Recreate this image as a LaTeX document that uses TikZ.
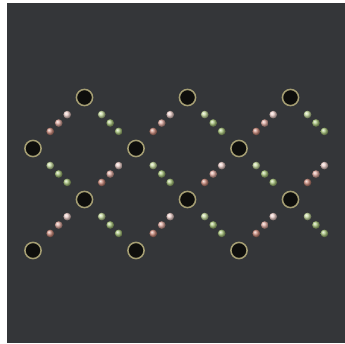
\documentclass[tikz,border=0pt]{standalone}
\usepackage{xcolor}
\usepackage{tikz}
\usetikzlibrary{decorations.markings}

\definecolor{boardbg}{RGB}{52,54,57}
\definecolor{ringcol}{RGB}{165,158,115}
\definecolor{pinklo}{RGB}{205,140,125}
\definecolor{pinkmid}{RGB}{222,170,160}
\definecolor{pinkhi}{RGB}{240,210,205}
\definecolor{greenlo}{RGB}{170,198,125}
\definecolor{greenhi}{RGB}{200,220,160}

\begin{document}
\begin{tikzpicture}[x={(0.03cm,0)}, y={(0,-0.03cm)},
    pin/.style={circle, fill={rgb,255:red,14;green,14;blue,12}, draw=ringcol,
        line width=1.3pt, minimum size=13.8pt, inner sep=0pt},
    reddots/.style={decoration={markings, mark=at position 0.5 with {
        \shade[ball color=pinklo] (-10.2pt,0) circle (3.3pt);
        \shade[ball color=pinkmid] (0pt,0) circle (3.3pt);
        \shade[ball color=pinkhi] (10.2pt,0) circle (3.3pt);}},
        decorate},
    greendots/.style={decoration={markings, mark=at position 0.5 with {
        \shade[ball color=greenhi] (-10.2pt,0) circle (3.3pt);
        \shade[ball color=greenlo] (0pt,0) circle (3.3pt);
        \shade[ball color=greenlo] (10.2pt,0) circle (3.3pt);}},
        decorate}]

    % Фон
    \useasboundingbox (0,0) rectangle (345,343);
    \fill[white] (0,0) rectangle (345,343);
    \fill[boardbg] (7,3) rectangle (345,343);

    % Гвозди
    \node[pin] (r1c1) at (84.5,97.5) {};
    \node[pin] (r1c3) at (187.5,97.5) {};
    \node[pin] (r1c5) at (290.5,97.5) {};
    \node[pin] (r2c0) at (33,148.5) {};
    \node[pin] (r2c2) at (136,148.5) {};
    \node[pin] (r2c4) at (239,148.5) {};
    \node[pin] (r3c1) at (84.5,199.5) {};
    \node[pin] (r3c3) at (187.5,199.5) {};
    \node[pin] (r3c5) at (290.5,199.5) {};
    \node[pin] (r4c0) at (33,250.5) {};
    \node[pin] (r4c2) at (136,250.5) {};
    \node[pin] (r4c4) at (239,250.5) {};

    % За краем
    \coordinate (r2c6) at (341.5,148.5);
    \coordinate (r4c6) at (341.5,250.5);

    % Красные ряды
    \path[reddots] (r2c0.center) -- (r1c1.center);
    \path[reddots] (r2c2.center) -- (r1c3.center);
    \path[reddots] (r2c4.center) -- (r1c5.center);
    \path[reddots] (r3c1.center) -- (r2c2.center);
    \path[reddots] (r3c3.center) -- (r2c4.center);
    \path[reddots] (r3c5.center) -- (r2c6);
    \path[reddots] (r4c0.center) -- (r3c1.center);
    \path[reddots] (r4c2.center) -- (r3c3.center);
    \path[reddots] (r4c4.center) -- (r3c5.center);

    % Зелёные ряды
    \path[greendots] (r1c1.center) -- (r2c2.center);
    \path[greendots] (r1c3.center) -- (r2c4.center);
    \path[greendots] (r1c5.center) -- (r2c6);
    \path[greendots] (r2c0.center) -- (r3c1.center);
    \path[greendots] (r2c2.center) -- (r3c3.center);
    \path[greendots] (r2c4.center) -- (r3c5.center);
    \path[greendots] (r3c1.center) -- (r4c2.center);
    \path[greendots] (r3c3.center) -- (r4c4.center);
    \path[greendots] (r3c5.center) -- (r4c6);

\end{tikzpicture}
\end{document}
